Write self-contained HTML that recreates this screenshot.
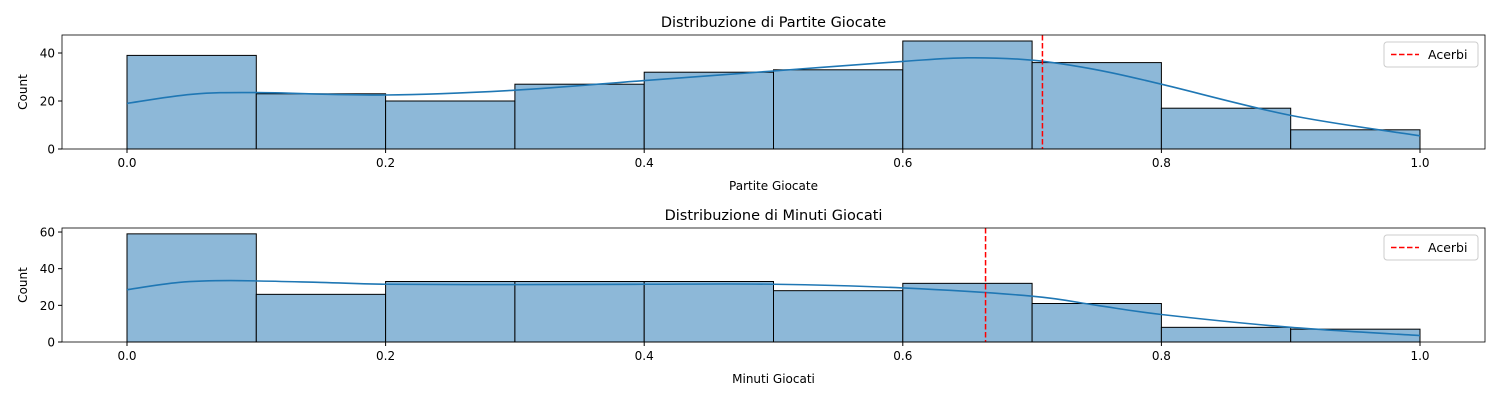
<!DOCTYPE html>
<html><head><meta charset="utf-8"><style>
body{margin:0;background:#fff;font-family:"Liberation Sans","DejaVu Sans",sans-serif}
svg text{font-family:"DejaVu Sans","Liberation Sans",sans-serif}
</style></head><body>
<svg id="c" width="1500" height="400" xmlns="http://www.w3.org/2000/svg"></svg>
<script>
const binEdges=[0,0.1,0.2,0.3,0.4,0.5,0.6,0.7,0.8,0.9,1.0];
const xTicks=[0,0.2,0.4,0.6,0.8,1.0];
const partiteCounts=[39,23,20,27,32,33,45,36,17,8];
const partiteKdeX=[0,0.05,0.1,0.2,0.3,0.4,0.5,0.6,0.65,0.7,0.75,0.8,0.9,1.0];
const partiteKdeY=[19,22.8,23.5,22.5,24.5,28.5,32.5,36.5,38,37,33,27,14,5.5];
const partiteTicks=[0,20,40];
const partiteAcerbi=0.708;
const minutiCounts=[59,26,33,33,33,28,32,21,8,7];
const minutiKdeX=[0,0.04,0.08,0.15,0.2,0.3,0.4,0.5,0.6,0.7,0.75,0.8,0.9,1.0];
const minutiKdeY=[28.5,32.5,33.5,32.5,31.5,31.3,31.5,31.5,29.5,25,20,15,8,3.5];
const minutiTicks=[0,20,40,60];
const minutiAcerbi=0.664;

const NS="http://www.w3.org/2000/svg",svg=document.getElementById('c');
function mk(t,a,p){const e=document.createElementNS(NS,t);for(const k in a)e.setAttribute(k,a[k]);(p||svg).appendChild(e);return e;}
const L=62,R=1485;
const xs=v=>127+v*1293;
function smooth(pts){
  let d='M'+pts[0][0]+','+pts[0][1];
  for(let i=0;i<pts.length-1;i++){
    const p0=pts[Math.max(0,i-1)],p1=pts[i],p2=pts[i+1],p3=pts[Math.min(pts.length-1,i+2)];
    const c1=[p1[0]+(p2[0]-p0[0])/6,p1[1]+(p2[1]-p0[1])/6];
    const c2=[p2[0]-(p3[0]-p1[0])/6,p2[1]-(p3[1]-p1[1])/6];
    d+='C'+c1[0]+','+c1[1]+' '+c2[0]+','+c2[1]+' '+p2[0]+','+p2[1];
  }
  return d;
}
function panel(top,bot,ppc,counts,kx,ky,ticks,acerbi,title,xlabel,key){
  const g=mk('g',{});
  
  
  const ys=v=>bot-v*ppc;
  counts.forEach((c,i)=>{
    const r=mk('rect',{x:xs(binEdges[i]),y:ys(c),width:xs(binEdges[i+1])-xs(binEdges[i]),height:bot-ys(c),fill:'#8db8d8',stroke:'#000','stroke-width':1},g);
    
    
  });
  const pts=kx.map((x,i)=>[xs(x),ys(ky[i])]);
  const p=mk('path',{d:smooth(pts),fill:'none',stroke:'#1f77b4','stroke-width':1.6},g);
  
  
  const a=mk('line',{x1:xs(acerbi),x2:xs(acerbi),y1:top,y2:bot,stroke:'#f00','stroke-width':1.5,'stroke-dasharray':'5.5,2.5'},g);
  
  
  const f=mk('rect',{x:L,y:top,width:R-L,height:bot-top,fill:'none',stroke:'#000','stroke-width':0.8},g);
  
  
  xTicks.forEach(v=>{
    mk('line',{x1:xs(v),x2:xs(v),y1:bot,y2:bot+4,stroke:'#000'},g);
    const t=mk('text',{x:xs(v),y:bot+18,'text-anchor':'middle','font-size':12},g);t.textContent=v.toFixed(1);
    
    
  });
  ticks.forEach(v=>{
    mk('line',{x1:L-4,x2:L,y1:ys(v),y2:ys(v),stroke:'#000'},g);
    const t=mk('text',{x:L-7,y:ys(v)+4.5,'text-anchor':'end','font-size':12},g);t.textContent=v;
    
    
  });
  const tt=mk('text',{x:(L+R)/2,y:top-8,'text-anchor':'middle','font-size':14.5},g);tt.textContent=title;
  
  
  const xl=mk('text',{x:(L+R)/2,y:bot+41,'text-anchor':'middle','font-size':12},g);xl.textContent=xlabel;
  
  
  const yl=mk('text',{x:0,y:0,'text-anchor':'middle','font-size':12,transform:`translate(27,${(top+bot)/2}) rotate(-90)`},g);yl.textContent='Count';
  
  
  const lg=mk('g',{},g);
  
  
  mk('rect',{x:1384,y:top+7,width:94,height:25,rx:3,fill:'#fff',stroke:'#ccc'},lg);
  mk('line',{x1:1391,x2:1419,y1:top+19.5,y2:top+19.5,stroke:'#f00','stroke-width':1.5,'stroke-dasharray':'5.5,2.5'},lg);
  const lt=mk('text',{x:1428,y:top+24,'font-size':12.5},lg);lt.textContent='Acerbi';
  
  
}
panel(35,149,2.4,partiteCounts,partiteKdeX,partiteKdeY,partiteTicks,partiteAcerbi,'Distribuzione di Partite Giocate','Partite Giocate','partite');
panel(228,342,1.833,minutiCounts,minutiKdeX,minutiKdeY,minutiTicks,minutiAcerbi,'Distribuzione di Minuti Giocati','Minuti Giocati','minuti');
</script>
</body></html>
